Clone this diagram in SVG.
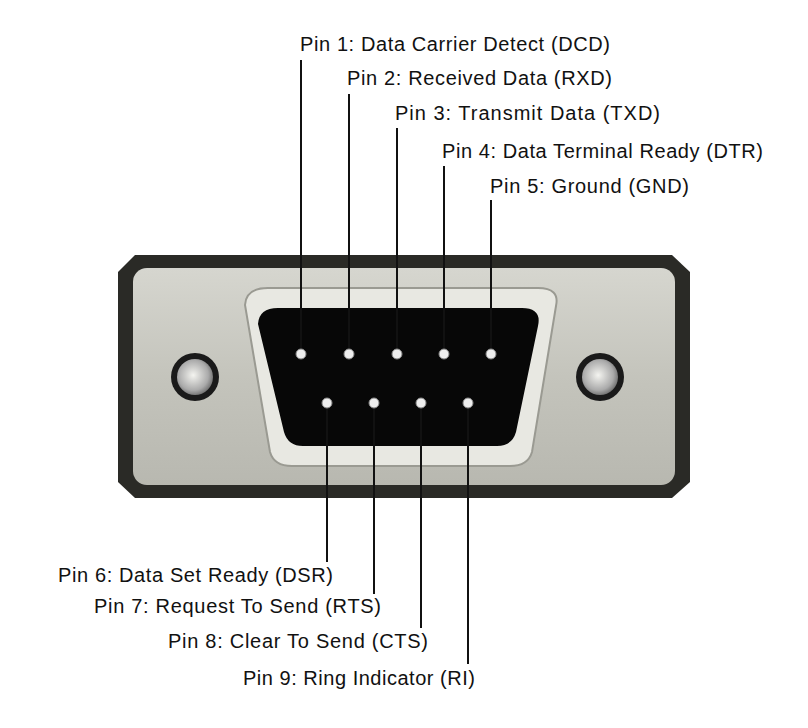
<svg xmlns="http://www.w3.org/2000/svg" width="808" height="728" viewBox="0 0 808 728">
<defs>
<style>
text{font-family:"Liberation Sans",Arial,sans-serif;font-size:20px;fill:#111}
.ln{stroke:#111;stroke-width:2;fill:none}
.pin{fill:#eee;stroke:#888;stroke-width:1}
</style>
<linearGradient id="plate" x1="0" y1="0" x2="0" y2="1"><stop offset="0" stop-color="#d6d6cf"/><stop offset="0.5" stop-color="#c4c4bc"/><stop offset="1" stop-color="#b8b8b0"/></linearGradient>
<radialGradient id="screw" cx="0.45" cy="0.45" r="0.6"><stop offset="0" stop-color="#f4f4f0"/><stop offset="0.7" stop-color="#aaa"/><stop offset="1" stop-color="#666"/></radialGradient>
</defs>
<rect width="808" height="728" fill="#fff"/>
<g id="connector">
<polygon points="135,255 672,255 690,272 690,482 672,498 135,498 118,482 118,272" fill="#2a2a26"/>
<rect x="133" y="268" width="542" height="217" rx="14" fill="url(#plate)"/>
<path d="M245,305 Q246,288 268,288 L538,288 Q560,288 556,306 L532,452 Q528,466 510,466 L292,466 Q274,466 270,452 Z" fill="#e8e8e2" stroke="#9a9a92" stroke-width="2"/>
<path d="M258,324 Q259,308 278,308 L522,308 Q542,308 538,326 L516,432 Q512,446 497,446 L303,446 Q288,446 284,432 Z" fill="#070707"/>
<g id="screw-left"><circle cx="195" cy="377" r="24" fill="#1a1a1a"/><circle cx="195" cy="377" r="18" fill="url(#screw)"/></g>
<g id="screw-right"><circle cx="600" cy="377" r="24" fill="#1a1a1a"/><circle cx="600" cy="377" r="18" fill="url(#screw)"/></g>
</g>
<g id="connectors">
<line class="ln" x1="301" y1="60" x2="301" y2="354"/>
<line class="ln" x1="349" y1="94" x2="349" y2="354"/>
<line class="ln" x1="397" y1="128" x2="397" y2="354"/>
<line class="ln" x1="444" y1="166" x2="444" y2="354"/>
<line class="ln" x1="491" y1="200" x2="491" y2="354"/>
<line class="ln" x1="327" y1="403" x2="327" y2="562"/>
<line class="ln" x1="374" y1="403" x2="374" y2="594"/>
<line class="ln" x1="421" y1="403" x2="421" y2="628"/>
<line class="ln" x1="468" y1="403" x2="468" y2="664"/>
</g>
<g id="pins">
<circle class="pin" cx="301" cy="354" r="5"/><circle class="pin" cx="349" cy="354" r="5"/><circle class="pin" cx="397" cy="354" r="5"/><circle class="pin" cx="444" cy="354" r="5"/><circle class="pin" cx="491" cy="354" r="5"/>
<circle class="pin" cx="327" cy="403" r="5"/><circle class="pin" cx="374" cy="403" r="5"/><circle class="pin" cx="421" cy="403" r="5"/><circle class="pin" cx="468" cy="403" r="5"/>
</g>
<g id="pin1"><text x="300" y="51" textLength="310">Pin 1: Data Carrier Detect (DCD)</text></g>
<g id="pin2"><text x="347" y="85" textLength="265">Pin 2: Received Data (RXD)</text></g>
<g id="pin3"><text x="395" y="120" textLength="265">Pin 3: Transmit Data (TXD)</text></g>
<g id="pin4"><text x="442" y="158" textLength="321">Pin 4: Data Terminal Ready (DTR)</text></g>
<g id="pin5"><text x="490" y="193" textLength="199">Pin 5: Ground (GND)</text></g>
<g id="pin6"><text x="58" y="582" textLength="275">Pin 6: Data Set Ready (DSR)</text></g>
<g id="pin7"><text x="94" y="613" textLength="287">Pin 7: Request To Send (RTS)</text></g>
<g id="pin8"><text x="168" y="648" textLength="260">Pin 8: Clear To Send (CTS)</text></g>
<g id="pin9"><text x="243" y="685" textLength="232">Pin 9: Ring Indicator (RI)</text></g>
</svg>
